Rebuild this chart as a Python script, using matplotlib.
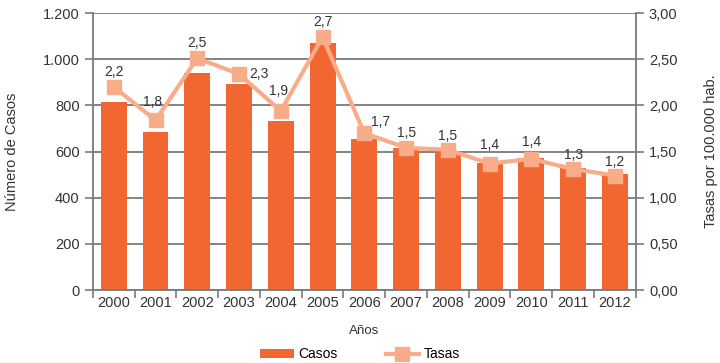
import numpy as np
import matplotlib.pyplot as plt

plt.rcParams['font.family'] = ['Liberation Sans', 'DejaVu Sans']

# datos
anios = ['2000', '2001', '2002', '2003', '2004', '2005', '2006',
         '2007', '2008', '2009', '2010', '2011', '2012']
casos = [814, 685, 940, 893, 732, 1070, 654, 615, 600, 550, 572, 528, 503]
tasas = [2.20, 1.84, 2.51, 2.34, 1.94, 2.74, 1.70, 1.54, 1.52, 1.37, 1.42, 1.31, 1.24]

# desplazamiento de las etiquetas (puntos)
desp = [(0, 11), (-2, 13), (0, 11), (14, 0), (-2, 14), (0, 11), (12, 8),
        (0, 11), (0, 10), (0, 13), (0, 12), (0, 10), (0, 10)]

naranja = '#F26631'
salmon = '#F8AD88'
gris = '#7a7a7a'
texto = '#333333'

fig = plt.figure(figsize=(7.2, 3.63), dpi=100)
ax = fig.add_axes([0.129, 0.201, 0.754, 0.763])
x = np.arange(len(anios))

ax.bar(x, casos, width=0.62, color=naranja, zorder=2, label='Casos')
ax.set_xlim(-0.5, len(anios) - 0.5)
ax.set_ylim(0, 1200)
ax.set_yticks(range(0, 1201, 200))
ax.set_yticklabels([f'{v:,}'.replace(',', '.') for v in range(0, 1201, 200)])
ax.yaxis.grid(True, color=gris, lw=1.3, zorder=0)
ax.set_axisbelow(True)

# marcas del eje x entre categorías
ax.set_xticks(np.arange(-0.5, len(anios), 1))
ax.set_xticklabels([])
ax.set_xticks(x, minor=True)
ax.set_xticklabels(anios, minor=True)
ax.tick_params(axis='x', which='major', length=6, color=gris, width=1.2)
ax.tick_params(axis='x', which='minor', length=0, pad=4, labelsize=10.5, labelcolor=texto)
ax.tick_params(axis='y', length=6, color=gris, width=1.2, labelsize=10.5, labelcolor=texto)

for s in ['top', 'right']:
    ax.spines[s].set_visible(False)
for s in ['left', 'bottom']:
    ax.spines[s].set_color(gris)
    ax.spines[s].set_linewidth(1.3)

ax.set_xlabel('Años', fontsize=9.5, color=texto, labelpad=11)
ax.set_ylabel('Número de Casos', fontsize=10.5, color=texto, labelpad=17)

ax2 = ax.twinx()
ax2.plot(x, tasas, color=salmon, lw=3, marker='s', ms=10, zorder=3, label='Tasas')
ax2.set_ylim(0, 3)
ax2.set_yticks(np.arange(0, 3.01, 0.5))
ax2.set_yticklabels([f'{v:.2f}'.replace('.', ',') for v in np.arange(0, 3.01, 0.5)])
ax2.tick_params(axis='y', length=6, color=gris, width=1.2, labelsize=10.5, labelcolor=texto)
for s in ['top', 'left', 'bottom']:
    ax2.spines[s].set_visible(False)
ax2.spines['right'].set_color(gris)
ax2.spines['right'].set_linewidth(1.3)
ax2.set_ylabel('Tasas por 100.000 hab.', fontsize=10.5, color=texto, labelpad=19)

for xi, t, d in zip(x, tasas, desp):
    ax2.annotate(f'{t:.1f}'.replace('.', ','), (xi, t), xytext=d,
                 textcoords='offset points', ha='center', va='center',
                 fontsize=10, color=texto)

h1, l1 = ax.get_legend_handles_labels()
h2, l2 = ax2.get_legend_handles_labels()
fig.legend(h1 + h2, l1 + l2, loc='lower center', bbox_to_anchor=(0.5, -0.03),
           ncol=2, frameon=False, fontsize=10, handlelength=2.4,
           columnspacing=3.5, handletextpad=0.3)

fig.savefig('out.png', dpi=100)
